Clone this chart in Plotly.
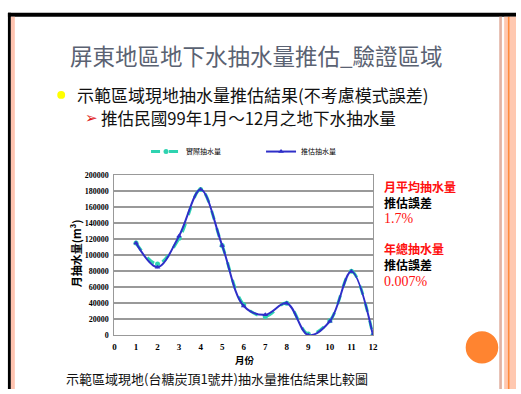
import plotly.graph_objects as go

# Monthly groundwater pumping, ROC year 99 (m³)
months = [1, 2, 3, 4, 5, 6, 7, 8, 9, 10, 11, 12]
actual = [115000, 89000, 121000, 182000, 112000, 38000, 23500, 40000, 1500, 18000, 80000, 0]
estimated = [115000, 85000, 124000, 182000, 112000, 36500, 25500, 40000, 0, 17500, 79500, 0]
x_ticks = list(range(0, 13))
y_ticks = list(range(0, 200001, 20000))

W, H = 521, 394
CJK = "Noto Sans CJK TC"
SERIF = "Liberation Serif"


def px(x):
    return x / W


def py(y):
    return 1 - y / H


fig = go.Figure()

fig.add_trace(go.Scatter(
    x=months, y=actual, name="實際抽水量",
    mode="lines+markers", line=dict(color="#2ed3b0", width=3, dash="dash", shape="spline", smoothing=1.0),
    marker=dict(symbol="circle", size=5, color="#2ed3b0"),
))
fig.add_trace(go.Scatter(
    x=months, y=estimated, name="推估抽水量",
    mode="lines+markers", line=dict(color="#2f2fc8", width=2, shape="spline", smoothing=1.0),
    marker=dict(symbol="triangle-up", size=5, color="#2f2fc8"),
))


def box(x0, x1, y0, y1, color, kind="rect"):
    return dict(type=kind, xref="paper", yref="paper", x0=px(x0), x1=px(x1),
                y0=py(y1), y1=py(y0), fillcolor=color, line_width=0, layer="above")


shapes = [
    # slide frame
    box(6, 521, 9, 13, "#000000"),
    box(6, 9, 9, 394, "#000000"),
    box(9, 13, 13, 394, "#ffc4b0"),
    box(504, 506.7, 13, 394, "#e2b2a2"),
    box(509, 512.7, 13, 394, "#ffc8b0"),
    box(512.7, 514.7, 13, 394, "#ff8a3c"),
    box(514.7, 521, 13, 394, "#ffc8b0"),
    # decorative dot
    box(470, 503, 335, 368, "#ff8430", "circle"),
    # bullet
    box(56, 64, 89, 97, "#ffff00", "circle"),
]

RED = "#ff1010"
annotations = [
    dict(text="屏東地區地下水抽水量推估_驗證區域", x=px(258), y=py(52), font=dict(family=CJK, size=22.5, color="#5a6272")),
    dict(text="示範區域現地抽水量推估結果(不考慮模式誤差)", x=px(75), y=py(93), xanchor="left",
         font=dict(family=CJK, size=17, color="#111111")),
    dict(text="➢", x=px(83), y=py(117), xanchor="left", font=dict(family="DejaVu Sans", size=15, color="#e01818")),
    dict(text="推估民國99年1月～12月之地下水抽水量", x=px(99), y=py(117), xanchor="left",
         font=dict(family=CJK, size=16.6, color="#111111")),
    # error summary beside the chart
    dict(text="<b>月平均抽水量</b>", x=px(386), y=py(187), xanchor="left", font=dict(family=CJK, size=12, color=RED)),
    dict(text="<b>推估誤差</b>", x=px(386), y=py(203), xanchor="left", font=dict(family=CJK, size=12, color="#000000")),
    dict(text="1.7%", x=px(386), y=py(220), xanchor="left", font=dict(family=SERIF, size=14, color=RED)),
    dict(text="<b>年總抽水量</b>", x=px(386), y=py(250.5), xanchor="left", font=dict(family=CJK, size=12, color=RED)),
    dict(text="<b>推估誤差</b>", x=px(386), y=py(266.5), xanchor="left", font=dict(family=CJK, size=12, color="#000000")),
    dict(text="0.007%", x=px(386), y=py(283.5), xanchor="left", font=dict(family=SERIF, size=14, color=RED)),
    dict(text="示範區域現地(台糖炭頂1號井)抽水量推估結果比較圖", x=px(64), y=py(383), xanchor="left",
         font=dict(family=CJK, size=13, color="#111111")),
    dict(text="<b>月抽水量(m³)</b>", x=px(75), y=py(255), textangle=-90, font=dict(family=CJK, size=11, color="#000000")),
    dict(text="<b>月份</b>", x=px(246), y=py(364.5), font=dict(family=CJK, size=9.5, color="#000000")),
]
for a in annotations:
    a.update(xref="paper", yref="paper", showarrow=False, yanchor="middle", borderpad=0)
    a.setdefault("xanchor", "center")

fig.update_layout(
    width=W, height=H, margin=dict(l=0, r=0, t=0, b=0),
    paper_bgcolor="white", plot_bgcolor="white",
    shapes=shapes, annotations=annotations,
    legend=dict(orientation="h", x=px(146), y=py(151), xanchor="left", yanchor="middle",
                font=dict(family=CJK, size=7, color="#000000"), entrywidth=70, bgcolor="rgba(0,0,0,0)",
                itemwidth=30),
    xaxis=dict(domain=[px(114), px(376)], range=[0, 12], tickvals=x_ticks,
               ticktext=[f"<b>{v}</b>" for v in x_ticks], showgrid=False,
               zeroline=False, showline=True, linecolor="#999999", mirror=True, ticks="",
               tickfont=dict(family=SERIF, size=9, color="#000000"), ticklabelstandoff=3),
    yaxis=dict(domain=[py(339), py(175)], range=[0, 200000], tickvals=y_ticks,
               ticktext=[f"<b>{v}</b>" for v in y_ticks],
               showgrid=True, gridcolor="#999999", gridwidth=1.5, zeroline=False,
               showline=True, linecolor="#999999", mirror=True, ticks="",
               tickfont=dict(family=SERIF, size=8, color="#000000"), ticklabelstandoff=3),
)

fig.write_html("out.html")
